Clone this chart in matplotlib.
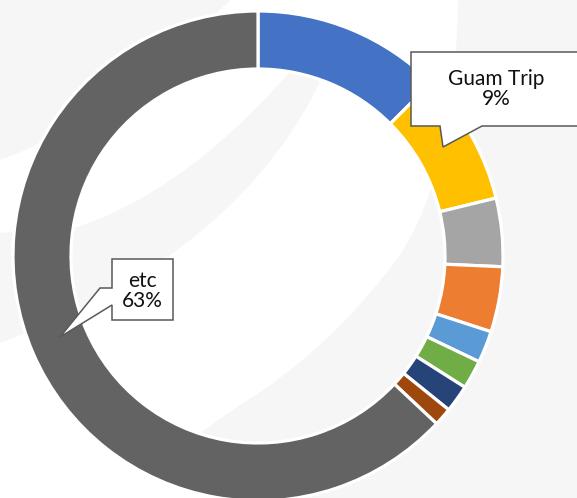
import numpy as np
import matplotlib.pyplot as plt
from matplotlib.patches import Polygon

# slice data, clockwise from 12 o'clock
categories = ['Item 1', 'Guam Trip', 'Item 3', 'Item 4', 'Item 5',
              'Item 6', 'Item 7', 'Item 8', 'etc']
shares = [12.5, 8.7, 4.5, 4.3, 2.1, 1.9, 1.8, 1.2, 63.0]
colors = ['#4472C4', '#FFC000', '#A5A5A5', '#ED7D31', '#5B9BD5',
          '#70AD47', '#264478', '#9E480E', '#636363']
callouts = ['Guam Trip', 'etc']

W, H = 577, 498
BG_GRAY = '#f6f6f6'
FONT = ['Lato', 'DejaVu Sans']


def up(pts):
    """image coords (y down) -> axes coords (y up)"""
    return [(x, H - y) for x, y in pts]


def bez(p0, c, p1, n=30):
    t = np.linspace(0, 1, n)[:, None]
    p0, c, p1 = map(np.asarray, (p0, c, p1))
    pts = (1 - t) ** 2 * p0 + 2 * (1 - t) * t * c + t ** 2 * p1
    return [tuple(p) for p in pts]


fig = plt.figure(figsize=(W / 100, H / 100), dpi=100)
ax = fig.add_axes([0, 0, 1, 1])

# faint watermark shapes in the background
shapes = [
    [(0, 0), (230, 0)] + bez((230, 0), (110, 120), (0, 160)),
    [(577, 0), (458, 0)] + bez((458, 0), (455, 170), (400, 255))
    + bez((400, 255), (330, 350), (240, 405)) + [(190, 440), (230, 498), (577, 498)],
    [(0, 233), (77, 227)] + bez((77, 227), (190, 190), (300, 60))
    + bez((330, 60), (250, 250), (0, 343)),
]
for s in shapes:
    ax.add_patch(Polygon(up(s), closed=True, facecolor=BG_GRAY,
                         edgecolor='none', zorder=0))

# donut
cx, cy, r_out, ring = 258, H - 256, 245, 58
wedges, _ = ax.pie(shares, colors=colors, startangle=90, counterclock=False,
                   radius=r_out, center=(cx, cy),
                   wedgeprops=dict(width=ring, edgecolor='white', linewidth=2.3))
for w in wedges:
    w.set_zorder(2)

total = sum(shares)
pct = {c: f'{round(v / total * 100)}%' for c, v in zip(categories, shares)}

# callout boxes (Excel style, with pointer)
boxes = {
    'Guam Trip': [(411, 52), (583, 52), (583, 126), (482, 126), (443, 147),
                  (440, 126), (411, 126)],
    'etc': [(112, 259), (173, 259), (173, 320), (112, 320), (112, 305),
            (60, 337), (100, 288), (112, 288)],
}
text_pos = {'Guam Trip': (496, 89), 'etc': (142, 291)}

for name in callouts:
    ax.add_patch(Polygon(up(boxes[name]), closed=True, facecolor='white',
                         edgecolor='#595959', linewidth=1.1, zorder=3))
    x, y = text_pos[name]
    ax.text(x, H - y, f'{name}\n{pct[name]}', ha='center', va='center',
            fontsize=15, family=FONT, color='#111111', linespacing=1.05,
            zorder=4)

ax.set_xlim(0, W)
ax.set_ylim(0, H)
ax.set_aspect('auto')
ax.axis('off')

fig.savefig('out.png', dpi=100, facecolor='white')
